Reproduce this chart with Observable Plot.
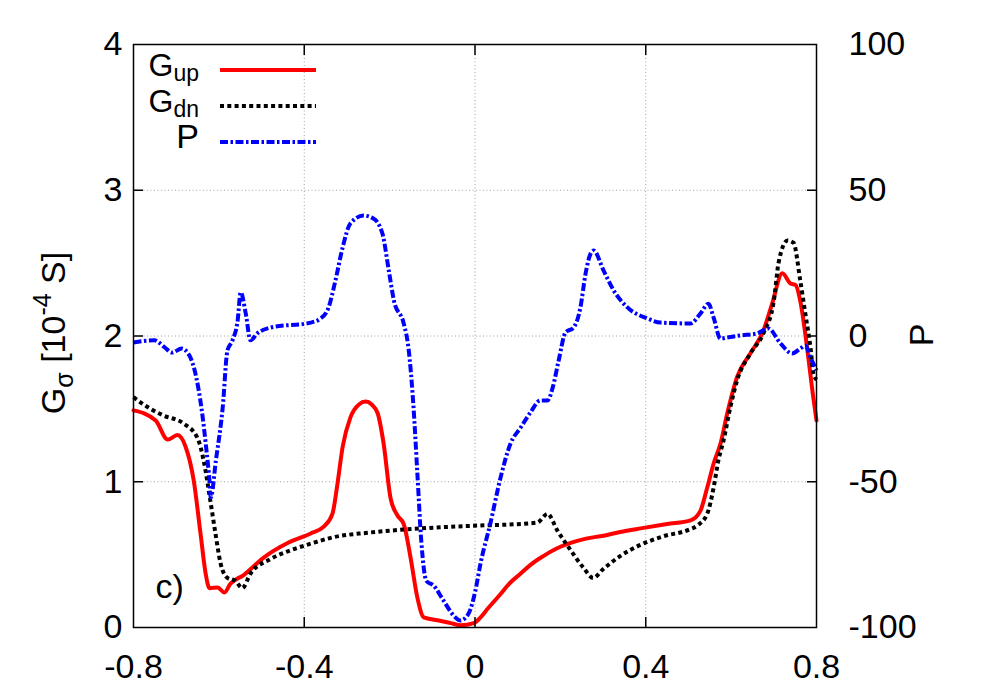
<!DOCTYPE html>
<html><head><meta charset="utf-8">
<script src="https://cdn.jsdelivr.net/npm/d3@7"></script>
<script src="https://cdn.jsdelivr.net/npm/@observablehq/plot@0.6"></script>
<style>
body{margin:0;background:#fff;}
#chart{position:relative;width:1000px;height:700px;}
svg text{font-family:"Liberation Sans",Arial,sans-serif;}
</style>
</head><body><div id="chart"></div>
<script>
// ---- data ----
const upX=[-0.8,-0.748,-0.72,-0.697,-0.678,-0.659,-0.643,-0.631,-0.622,-0.603,-0.587,-0.573,-0.542,-0.495,-0.439,-0.385,-0.355,-0.334,-0.322,-0.31,-0.292,-0.272,-0.256,-0.242,-0.228,-0.214,-0.198,-0.182,-0.167,-0.151,-0.135,-0.12,-0.088,-0.057,-0.034,-0.003,0.013,0.03,0.06,0.08,0.107,0.13,0.16,0.19,0.224,0.26,0.301,0.34,0.388,0.45,0.505,0.528,0.544,0.559,0.575,0.591,0.614,0.645,0.676,0.696,0.72,0.739,0.751,0.762,0.778,0.791,0.8];
const upY=[1.49,1.42,1.29,1.32,1.24,1.01,0.645,0.37,0.27,0.275,0.24,0.30,0.36,0.48,0.58,0.645,0.69,0.78,0.99,1.24,1.44,1.53,1.55,1.53,1.47,1.26,0.89,0.77,0.71,0.48,0.205,0.07,0.05,0.03,0.015,0.03,0.07,0.13,0.23,0.30,0.37,0.43,0.49,0.54,0.58,0.61,0.63,0.655,0.68,0.71,0.735,0.80,0.96,1.125,1.26,1.47,1.72,1.88,2.04,2.22,2.43,2.36,2.35,2.24,1.92,1.61,1.42];
const dnX=[-0.8,-0.76,-0.73,-0.683,-0.65,-0.636,-0.62,-0.608,-0.596,-0.58,-0.561,-0.545,-0.526,-0.479,-0.432,-0.385,-0.331,-0.252,-0.175,-0.097,0.013,0.067,0.146,0.17,0.193,0.224,0.254,0.277,0.3,0.34,0.39,0.44,0.5,0.521,0.544,0.559,0.57,0.582,0.598,0.614,0.645,0.676,0.70,0.711,0.732,0.746,0.762,0.774,0.786,0.793,0.8];
const dnY=[1.58,1.50,1.455,1.40,1.30,1.15,0.87,0.645,0.44,0.34,0.32,0.27,0.37,0.47,0.53,0.575,0.62,0.65,0.67,0.685,0.70,0.705,0.72,0.78,0.665,0.53,0.41,0.34,0.40,0.49,0.57,0.625,0.67,0.70,0.78,0.96,1.145,1.28,1.51,1.695,1.88,2.02,2.24,2.50,2.655,2.64,2.38,2.15,1.92,1.74,1.70];
const pX=[-0.8,-0.751,-0.727,-0.71,-0.687,-0.669,-0.653,-0.641,-0.63,-0.622,-0.619,-0.607,-0.591,-0.58,-0.568,-0.556,-0.549,-0.537,-0.526,-0.51,-0.479,-0.385,-0.362,-0.343,-0.327,-0.31,-0.292,-0.261,-0.238,-0.217,-0.202,-0.19,-0.167,-0.156,-0.144,-0.135,-0.126,-0.114,-0.097,-0.074,-0.05,-0.034,-0.015,0.001,0.013,0.036,0.06,0.083,0.107,0.13,0.153,0.17,0.182,0.196,0.212,0.231,0.247,0.259,0.271,0.278,0.301,0.325,0.357,0.404,0.435,0.505,0.528,0.547,0.559,0.575,0.591,0.622,0.661,0.687,0.716,0.743,0.762,0.774,0.786,0.8];
const pY=[-2.2,-1.5,-3.9,-5.7,-4.3,-6.7,-14.2,-24.5,-38,-49.6,-55.4,-42.7,-24.5,-5.0,-1.5,5.3,15,7.7,-1.5,0.9,2.9,4.6,6,9.8,19,30.4,38.6,41.3,40.3,35.2,22.5,12.2,4.3,-3.9,-24.5,-47.2,-70,-84,-85.6,-90.7,-95.9,-97.6,-95.2,-87.3,-78,-64.3,-48.5,-37,-31.4,-26.2,-22.1,-22.1,-17.7,-8.4,1.2,2.9,9.8,21.4,28.3,29.3,22.5,15.6,9.8,6,4.6,4.3,7.7,11.1,6.3,-0.9,-0.5,0.2,0.9,2.6,-2.6,-6,-4.3,-3.3,-7.4,-11.8];

const xTicks=[-0.8,-0.4,0,0.4,0.8];
const gTicks=[0,1,2,3,4];
const pTicks=[-100,-50,0,50,100];
const innerX=[-0.4,0,0.4];
const innerG=[1,2,3];
const seriesNames=["up","dn","P"];

// P (right axis, -100..100) mapped onto the G scale (0..4)
const pToG=p=>(p+100)/50;
const gToP=g=>g*50-100;

const up=upX.map((x,i)=>({x,y:upY[i]}));
const dn=dnX.map((x,i)=>({x,y:dnY[i]}));
const pol=pX.map((x,i)=>({x,y:pToG(pY[i])}));

const styles={
  up:{stroke:"#ff0000",strokeWidth:4},
  dn:{stroke:"#000000",strokeWidth:4,strokeDasharray:"4,3.3"},
  P:{stroke:"#0000ff",strokeWidth:4,strokeDasharray:"8,2.5,2.5,2.5"}
};
const fmt=d=>String(d);
const FS=34;

const plot=Plot.plot({
  width:1000,height:700,
  marginLeft:133,marginRight:184,marginTop:44,marginBottom:73,
  style:{fontFamily:"Liberation Sans, Arial, sans-serif",fontSize:FS+"px",color:"black",background:"white",overflow:"visible"},
  x:{domain:[-0.8,0.8]},
  y:{domain:[0,4]},
  marks:[
    Plot.gridX(innerX,{stroke:"#a0a0a0",strokeOpacity:1,strokeWidth:1,strokeDasharray:"1,2.5"}),
    Plot.gridY(innerG,{stroke:"#a0a0a0",strokeOpacity:1,strokeWidth:1,strokeDasharray:"1,2.5"}),
    Plot.line(up,{x:"x",y:"y",...styles.up,curve:"monotone-x",strokeLinejoin:"round"}),
    Plot.line(dn,{x:"x",y:"y",...styles.dn,curve:"monotone-x",strokeLinecap:"butt"}),
    Plot.line(pol,{x:"x",y:"y",...styles.P,curve:"monotone-x",strokeLinecap:"butt"}),
    Plot.frame({stroke:"black",strokeWidth:1.5}),
    // inward ticks on all four sides
    Plot.axisX(innerX,{anchor:"bottom",tickSize:-10,tickFormat:()=>"",label:null,strokeWidth:1.5}),
    Plot.axisX(innerX,{anchor:"top",tickSize:-10,tickFormat:()=>"",label:null,strokeWidth:1.5}),
    Plot.axisY(innerG,{anchor:"left",tickSize:-10,tickFormat:()=>"",label:null,strokeWidth:1.5}),
    Plot.axisY(innerG,{anchor:"right",tickSize:-10,tickFormat:()=>"",label:null,strokeWidth:1.5}),
    // tick labels
    Plot.axisX(xTicks,{anchor:"bottom",tickSize:0,tickPadding:26,tickFormat:fmt,label:null,fontSize:FS}),
    Plot.axisY(gTicks,{anchor:"left",tickSize:0,tickPadding:11,tickFormat:fmt,label:null,fontSize:FS}),
    Plot.axisY(gTicks,{anchor:"right",tickSize:0,tickPadding:32,tickFormat:g=>fmt(gToP(g)),label:null,fontSize:FS,textAnchor:"start"}),
    Plot.text(["c)"],{frameAnchor:"bottom-left",dx:22,dy:-30,fontSize:FS,textAnchor:"start",lineAnchor:"bottom"})
  ]
});
document.getElementById("chart").appendChild(plot);

// ---- axis titles and key (text with sub/superscripts) ----
const svg=d3.select(plot);
const ff="Liberation Sans, Arial, sans-serif";
const lt=svg.append("text").attr("transform","translate(65,333) rotate(-90)")
  .attr("text-anchor","middle").attr("font-family",ff).attr("font-size",FS).attr("fill","black");
lt.append("tspan").text("G");
lt.append("tspan").attr("font-size",25).attr("dy",8).text("σ");
lt.append("tspan").attr("dy",-8).text(" [10");
lt.append("tspan").attr("font-size",25).attr("dy",-14).text("-4");
lt.append("tspan").attr("dy",14).text(" S]");

svg.append("text").attr("transform","translate(933,335) rotate(-90)")
  .attr("text-anchor","middle").attr("font-family",ff).attr("font-size",FS).attr("fill","black").text("P");

const key=svg.append("g");
const keyLabels={up:["G","up"],dn:["G","dn"],P:["P",""]};
seriesNames.forEach((k,i)=>{
  const base=76+36*i;
  const t=key.append("text").attr("x",199).attr("y",base).attr("text-anchor","end")
    .attr("font-family",ff).attr("font-size",i===2?FS:32).attr("fill","black");
  t.append("tspan").text(keyLabels[k][0]);
  if(keyLabels[k][1]) t.append("tspan").attr("font-size",23).attr("dy",5).text(keyLabels[k][1]);
  const s=styles[k];
  key.append("line").attr("x1",220).attr("x2",316).attr("y1",70+36*i).attr("y2",70+36*i)
    .attr("stroke",s.stroke).attr("stroke-width",s.strokeWidth)
    .attr("stroke-dasharray",s.strokeDasharray||null);
});
</script>
</body></html>
